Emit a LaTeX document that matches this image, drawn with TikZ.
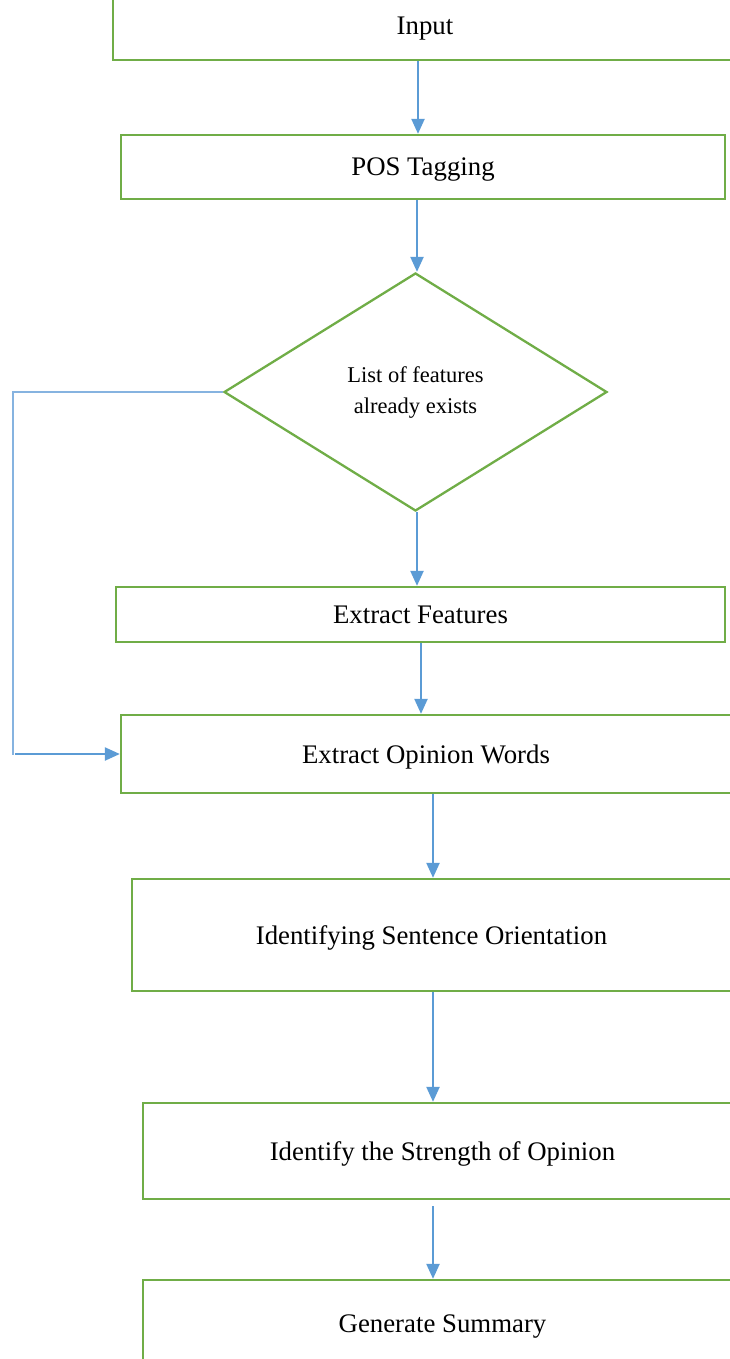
\documentclass[tikz,border=0pt]{standalone}
\usepackage{fontspec}
\setmainfont{Liberation Serif}
\usetikzlibrary{shapes.geometric,arrows.meta}
\definecolor{bgreen}{HTML}{70AD47}
\definecolor{bblue}{HTML}{5B9BD5}
\definecolor{lblue}{HTML}{86B3E0}
\begin{document}
\begin{tikzpicture}[x=1pt,y=-1pt,
 box/.style={draw=bgreen,line width=2.3pt,rectangle,inner sep=0pt,text height=18pt,text depth=0pt,font=\fontsize{26.8}{31}\selectfont},
 dia/.style={draw=bgreen,line width=2.3pt,diamond,inner sep=0pt,font=\fontsize{22.5}{31}\selectfont},
 arr/.style={draw=bblue,line width=2.2pt,-{Triangle[length=15pt,width=13pt]}},
 thinline/.style={draw=lblue,line width=1.3pt}]
\useasboundingbox (0,0) rectangle (730,1359);
\clip (0,0) rectangle (730,1359);
\node[box,minimum width=624,minimum height=68] (in) at (425,26) {Input};
\node[box,minimum width=604,minimum height=64] (pos) at (423,167) {POS Tagging};
\node[dia,minimum width=383,minimum height=238] (dia) at (415.5,392) {\raisebox{-3pt}{\begin{tabular}{@{}c@{}}List of features\\[0pt]already exists\end{tabular}}};
\node[box,minimum width=609,minimum height=55] (ef) at (420.5,614.5) {Extract Features};
\node[box,minimum width=610,minimum height=78] (eow) at (426,754) {Extract Opinion Words};
\node[box,minimum width=599,minimum height=112] (iso) at (431.5,935) {Identifying Sentence Orientation};
\node[box,minimum width=599,minimum height=96] (ist) at (442.5,1151) {Identify the Strength of Opinion};
\node[box,minimum width=599,minimum height=86] (gs) at (442.5,1323) {Generate Summary};
\draw[arr] ([xshift=-7pt]in.south) -- ([xshift=-5pt]pos.north);
\draw[arr] ([xshift=-6pt]pos.south) -- ([xshift=1.5pt]dia.north);
\draw[arr] ([xshift=1.5pt]dia.south) -- ([xshift=-3.5pt]ef.north);
\draw[arr] ([xshift=0.5pt]ef.south) -- ([xshift=-5pt]eow.north);
\draw[arr] ([xshift=7pt]eow.south) -- ([xshift=1.5pt]iso.north);
\draw[arr] ([xshift=1.5pt]iso.south) -- ([xshift=-9.5pt]ist.north);
\draw[arr] ([xshift=-9.5pt,yshift=-6pt]ist.south) -- ([xshift=-9.5pt]gs.north);
\coordinate (lt) at (13,392);
\coordinate (lb) at (13,755);
\coordinate (la) at (15,754);
\draw[thinline] (dia.west) -- (lt) -- (lb);
\draw[arr] (la) -- (eow.west);
\end{tikzpicture}
\end{document}
